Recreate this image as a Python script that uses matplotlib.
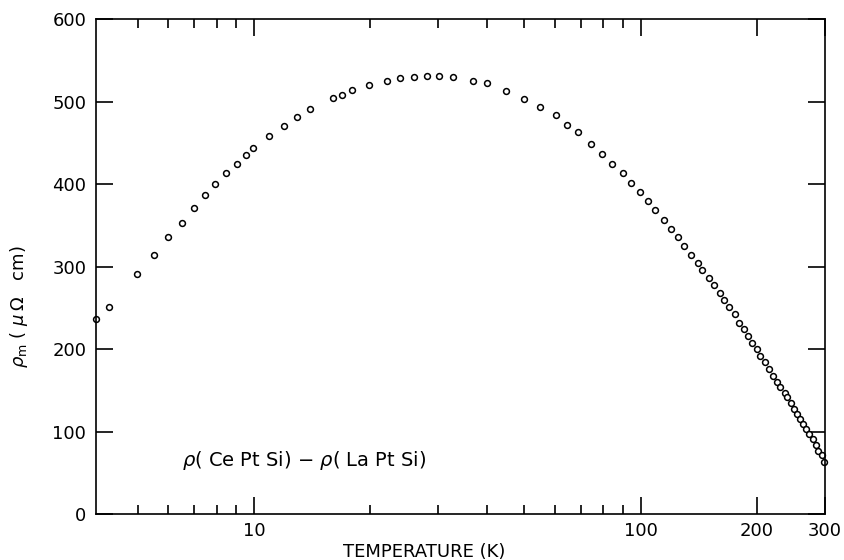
import matplotlib
matplotlib.use('Agg')
import matplotlib.pyplot as plt
from matplotlib.ticker import FixedLocator, NullFormatter

# temperature (K) and magnetic resistivity (micro-ohm cm)
temperature = [3.90, 4.22, 4.99, 5.51, 5.99, 6.51, 6.99, 7.46, 7.94, 8.47,
               9.02, 9.54, 9.96, 10.93, 11.95, 12.89, 13.93, 16.00, 16.88, 17.95,
               19.83, 22.03, 23.88, 25.91, 27.95, 30.06, 32.68, 36.87, 40.0, 44.87,
               49.94, 54.95, 60.3, 64.5, 68.96, 74.6, 79.4, 84.5, 90.0, 94.4,
               99.7, 104.7, 109.1, 115.1, 119.7, 125.2, 129.7, 134.7, 140.7, 144.6,
               150.2, 154.7, 160.3, 164.8, 169.8, 175.0, 179.7, 185.1, 190.1, 194.4,
               200.6, 204.2, 209.4, 215.1, 219.6, 225.3, 229.6, 235.9, 239.5, 245.6,
               249.7, 254.2, 258.3, 263.5, 268.2, 272.2, 278.6, 283.8, 288.0, 294.1,
               298.0]
rho_m = [236.4, 251.3, 290.9, 313.9, 335.4, 353.1, 371.3, 387.0, 400.0, 413.3,
         424.6, 435.5, 443.6, 457.8, 470.7, 480.8, 490.5, 503.9, 508.2, 513.9,
         519.6, 524.8, 528.1, 529.7, 530.9, 530.9, 529.7, 524.8, 522.1, 512.4,
         503.4, 493.0, 483.3, 471.2, 462.8, 448.1, 436.0, 424.2, 413.7, 401.2,
         390.3, 379.4, 368.1, 356.4, 345.5, 335.8, 324.8, 313.6, 304.2, 295.4,
         285.7, 277.2, 267.9, 259.4, 250.5, 242.8, 231.5, 224.2, 216.1, 206.9,
         199.6, 191.5, 184.0, 175.8, 167.5, 159.6, 153.6, 147.3, 142.2, 134.2,
         127.5, 121.8, 115.4, 109.1, 102.7, 96.4, 91.3, 83.4, 77.0, 71.2,
         62.7]

major_x = [10, 100, 200, 300]
major_x_labels = ['10', '100', '200', '300']
minor_x = [5, 6, 7, 8, 9, 20, 30, 40, 50, 60, 70, 80, 90]
y_ticks = [0, 100, 200, 300, 400, 500, 600]

plt.rcParams['font.family'] = 'DejaVu Sans'

fig = plt.figure(figsize=(8.44, 5.6), dpi=100)
ax = fig.add_axes([0.1137, 0.0821, 0.8638, 0.8839])

ax.plot(temperature, rho_m, 'o', markersize=4.2, markerfacecolor='white',
        markeredgecolor='black', markeredgewidth=1.1, clip_on=False)

ax.set_xscale('log')
ax.set_xlim(3.9, 300)
ax.set_ylim(0, 600)

ax.xaxis.set_major_locator(FixedLocator(major_x))
ax.set_xticklabels(major_x_labels)
ax.xaxis.set_minor_locator(FixedLocator(minor_x))
ax.xaxis.set_minor_formatter(NullFormatter())
ax.set_yticks(y_ticks)

ax.tick_params(which='both', direction='in', top=True, right=True,
               width=1.2, labelsize=13, colors='black')
ax.tick_params(which='major', length=12)
ax.tick_params(which='minor', length=6.5)
ax.tick_params(axis='x', pad=6)
ax.tick_params(axis='y', pad=7)
for s in ax.spines.values():
    s.set_linewidth(1.2)

ax.set_xlabel('TEMPERATURE (K)', fontsize=13)
ax.xaxis.set_label_coords(0.45, -0.058)
ax.set_ylabel(r'$\rho_{\mathrm{m}}$ ( $\mu\,\Omega$   cm)', fontsize=13)
ax.yaxis.set_label_coords(-0.09, 0.42)

ax.text(0.1176, 0.109, r'$\rho$( Ce Pt Si) $-$ $\rho$( La Pt Si)',
        transform=ax.transAxes, fontsize=14, va='center', ha='left')

fig.savefig('out.png', dpi=100)
